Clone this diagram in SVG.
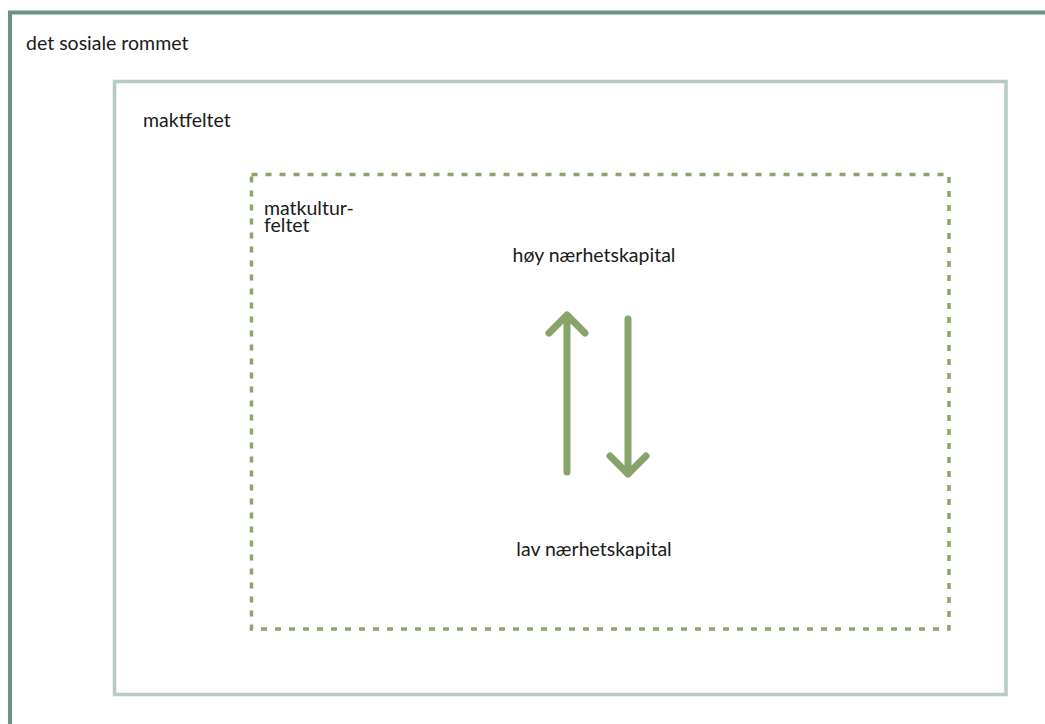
<svg xmlns="http://www.w3.org/2000/svg" width="1045" height="724" viewBox="0 0 1045 724">
<style>
.t{font-family:Lato,"Liberation Sans",sans-serif;font-size:19.5px;fill:#1a1a1a}
.ar{fill:none;stroke:#87a46a;stroke-width:7;stroke-linecap:round;stroke-linejoin:round}
</style>
<rect width="1045" height="724" fill="#ffffff"/>
<g id="det-sosiale-rommet">
<rect x="10" y="12.5" width="1060" height="740" fill="none" stroke="#6b9282" stroke-width="4"/>
<text class="t" x="26" y="50">det sosiale rommet</text>
</g>
<g id="maktfeltet">
<rect x="114.5" y="81.5" width="891.5" height="613" fill="none" stroke="#b6cbc3" stroke-width="3.5"/>
<text class="t" x="143" y="127">maktfeltet</text>
</g>
<g id="matkulturfeltet">
<rect x="251.5" y="174.5" width="697.5" height="454.5" fill="none" stroke="#8aa66b" stroke-width="3.5" stroke-dasharray="6 8"/>
<text class="t" x="264" y="215">matkultur-</text>
<text class="t" x="264" y="231.5">feltet</text>
</g>
<g id="hoy">
<text class="t" x="594" y="262" text-anchor="middle">høy nærhetskapital</text>
</g>
<g id="lav">
<text class="t" x="594" y="556" text-anchor="middle">lav nærhetskapital</text>
</g>
<g id="connectors">
<path class="ar" d="M567 472V316M549 333L567 315L585 333"/>
<path class="ar" d="M628 319V473M610 456L628 474L646 456"/>
</g>
</svg>
